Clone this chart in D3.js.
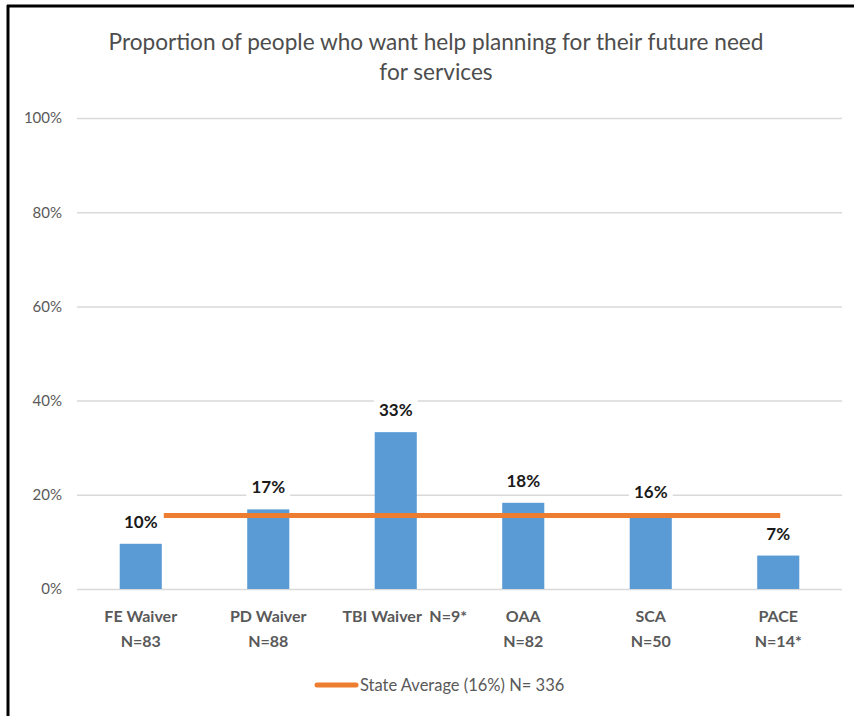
<!DOCTYPE html>
<html><head><meta charset="utf-8">
<script src="https://cdn.jsdelivr.net/npm/d3@7"></script>
<style>html,body{margin:0;padding:0;background:#fff;} svg{display:block;font-family:Lato,"Open Sans",sans-serif;}</style>
</head><body>
<svg id="chart" width="854" height="716"></svg>
<script>
const categories = ["FE Waiver", "PD Waiver", "TBI Waiver", "OAA", "SCA", "PACE"];
const subLabels = ["N=83", "N=88", "N=9*", "N=82", "N=50", "N=14*"];
const values = [9.6, 16.9, 33.3, 18.3, 16.0, 7.1];
const valueLabels = ["10%", "17%", "33%", "18%", "16%", "7%"];
const stateAverage = 15.6;
const legendLabel = "State Average (16%) N= 336";
const yTicks = [0, 20, 40, 60, 80, 100];
const titleLines = ["Proportion of people who want help planning for their future need", "for services"];

const svg = d3.select("#chart");
const W = 854, H = 716;
const m = {left: 77, right: 12, top: 118, bottom: 127};

// frame lines (top and left)
svg.append("line").attr("x1", 7).attr("x2", W).attr("y1", 6).attr("y2", 6).attr("stroke", "#000").attr("stroke-width", 3);
svg.append("line").attr("x1", 8).attr("x2", 8).attr("y1", 5).attr("y2", H).attr("stroke", "#000").attr("stroke-width", 3);

const x = d3.scaleBand().domain(categories).range([m.left, W - m.right]).paddingInner(0.67).paddingOuter(0.335);
const y = d3.scaleLinear().domain([0, 100]).range([H - m.bottom, m.top]);

// title
const title = svg.append("text").attr("text-anchor", "middle").attr("fill", "#4d4d4d").attr("font-size", 22);
titleLines.forEach((t, i) => {
  title.append("tspan").attr("x", 436).attr("y", 50 + i * 30).text(t);
});
const firstLen = title.select("tspan").node().getComputedTextLength();
title.attr("font-size", 22 * 655 / firstLen);

// gridlines + y axis
const yAxis = d3.axisLeft(y).tickValues(yTicks).tickFormat(d => d + "%").tickSize(-(W - m.right - m.left)).tickPadding(15);
const ga = svg.append("g").attr("transform", `translate(${m.left},0)`).call(yAxis);
ga.select(".domain").remove();
ga.selectAll(".tick line").attr("stroke", "#d9d9d9").attr("stroke-width", 1.5);
ga.selectAll(".tick text").attr("fill", "#595959").attr("font-size", 15).attr("font-family", "Lato, sans-serif");

// bars
svg.append("g").selectAll("rect").data(values).join("rect")
  .attr("x", (d, i) => x(categories[i]))
  .attr("width", x.bandwidth())
  .attr("y", d => y(d))
  .attr("height", d => y(0) - y(d))
  .attr("fill", "#5b9bd5");

// state average line
const lineStart = x(categories[0]) + x.bandwidth() + 2;
const lineEnd = x(categories[categories.length - 1]) + x.bandwidth() / 2 + 2;
svg.append("line").attr("x1", lineStart).attr("x2", lineEnd)
  .attr("y1", y(stateAverage)).attr("y2", y(stateAverage))
  .attr("stroke", "#ed7d31").attr("stroke-width", 5);

// x labels
const xl = svg.append("g");
categories.forEach((c, i) => {
  const cx = x(c) + x.bandwidth() / 2;
  const t = xl.append("text").attr("text-anchor", "middle").attr("fill", "#595959")
    .attr("font-size", 16).attr("font-weight", "bold");
  if (c === "TBI Waiver") {
    t.attr("x", cx + 9).attr("y", 622).text(c + "  " + subLabels[i]).attr("xml:space", "preserve");
  } else {
    t.append("tspan").attr("x", cx).attr("y", 622).text(c);
    t.append("tspan").attr("x", cx).attr("y", 647).text(subLabels[i]);
  }
});

// value labels with white background
const vl = svg.append("g");
values.forEach((v, i) => {
  const cx = x(categories[i]) + x.bandwidth() / 2;
  const g = vl.append("g");
  const t = g.append("text").attr("x", cx).attr("y", y(v) - 16).attr("text-anchor", "middle")
    .attr("fill", "#1a1a1a").attr("font-size", 17).attr("font-weight", "bold").text(valueLabels[i]);
  const bb = t.node().getBBox();
  g.insert("rect", "text").attr("x", bb.x - 5).attr("y", bb.y - 1).attr("width", bb.width + 10).attr("height", bb.height + 4).attr("fill", "#fff");
});

// legend
const lg = svg.append("g");
lg.append("line").attr("x1", 317).attr("x2", 356).attr("y1", 685).attr("y2", 685)
  .attr("stroke", "#ed7d31").attr("stroke-width", 5).attr("stroke-linecap", "round");
lg.append("text").attr("x", 360).attr("y", 691).attr("fill", "#595959").attr("font-size", 16.5).text(legendLabel);
</script>
</body></html>
